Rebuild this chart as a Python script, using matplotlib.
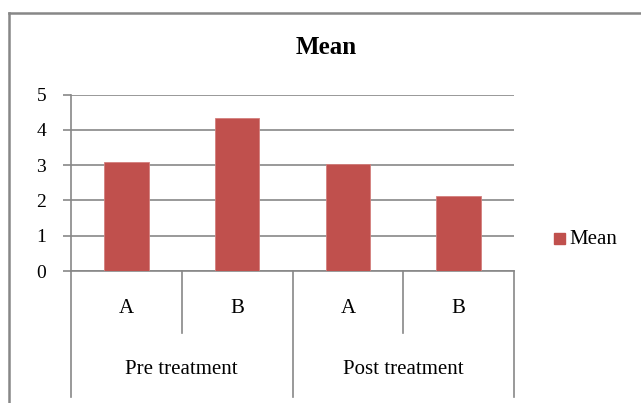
import matplotlib
matplotlib.use("Agg")
import matplotlib.pyplot as plt
from matplotlib.lines import Line2D
from matplotlib.patches import Rectangle
import matplotlib.transforms as mtransforms

# chart data
groups = ["Pre treatment", "Post treatment"]
subgroups = ["A", "B"]
mean_values = [3.09, 4.33, 3.03, 2.12]
y_ticks = [0, 1, 2, 3, 4, 5]

BAR_COLOR = "#C0504D"
GRID_COLOR = "#878787"

plt.rcParams["font.family"] = ["Liberation Serif", "DejaVu Serif"]

fig = plt.figure(figsize=(6.41, 4.03), dpi=100)
W, H = 641, 403

# outer chart border (only top and left edges visible in the crop)
fig.add_artist(Line2D([9 / W, 9 / W], [0, 1 - 13 / H], color=GRID_COLOR, lw=1.8,
                      transform=fig.transFigure))
fig.add_artist(Line2D([9 / W, 1], [1 - 13 / H, 1 - 13 / H], color=GRID_COLOR, lw=1.8,
                      transform=fig.transFigure))

ax = fig.add_axes([71 / W, 1 - 271 / H, (514 - 71) / W, (271 - 94.7) / H])

labels = [s for g in groups for s in subgroups]
x = list(range(len(labels)))
bars = ax.bar(x, mean_values, width=0.4, color=BAR_COLOR, edgecolor="#D47F7D",
              linewidth=0.6, label="Mean", zorder=3)

ax.set_xlim(-0.5, len(labels) - 0.5)
ax.set_ylim(0, 5)
ax.set_yticks(y_ticks)
ax.set_yticklabels([str(t) for t in y_ticks], fontsize=14)
ax.yaxis.grid(True, color=GRID_COLOR, lw=1.2, zorder=0)
ax.set_xticks([])

for side in ["top", "right"]:
    ax.spines[side].set_visible(False)
ax.spines["left"].set_color(GRID_COLOR)
ax.spines["left"].set_linewidth(1.2)
ax.spines["bottom"].set_color(GRID_COLOR)
ax.spines["bottom"].set_linewidth(1.2)
ax.tick_params(axis="y", direction="out", length=6, width=1.2, color=GRID_COLOR,
               pad=12, labelcolor="black")

# multi-level category axis
trans = mtransforms.blended_transform_factory(ax.transData, ax.transAxes)
n_sub = len(subgroups)
for i in range(len(labels) + 1):
    xpos = i - 0.5
    if i % n_sub == 0:
        y_end = -0.715
    else:
        y_end = -0.352
    ax.add_line(Line2D([xpos, xpos], [0, y_end], color=GRID_COLOR, lw=1.2,
                       transform=trans, clip_on=False))

for i, lab in enumerate(labels):
    ax.text(i, -0.21, lab, transform=trans, ha="center", va="center", fontsize=15)

for gi, g in enumerate(groups):
    cx = gi * n_sub + (n_sub - 1) / 2
    ax.text(cx, -0.56, g, transform=trans, ha="center", va="center", fontsize=15)

fig.text(326 / W, 1 - 47 / H, "Mean", ha="center", va="center", fontsize=18,
         fontweight="bold")

# legend
fig.add_artist(Rectangle((554 / W, 1 - 244 / H), 11 / W, 11 / H, color=BAR_COLOR,
                         transform=fig.transFigure))
fig.text(569 / W, 1 - 239 / H, "Mean", ha="left", va="center", fontsize=15)

fig.savefig("out.png", dpi=100)
